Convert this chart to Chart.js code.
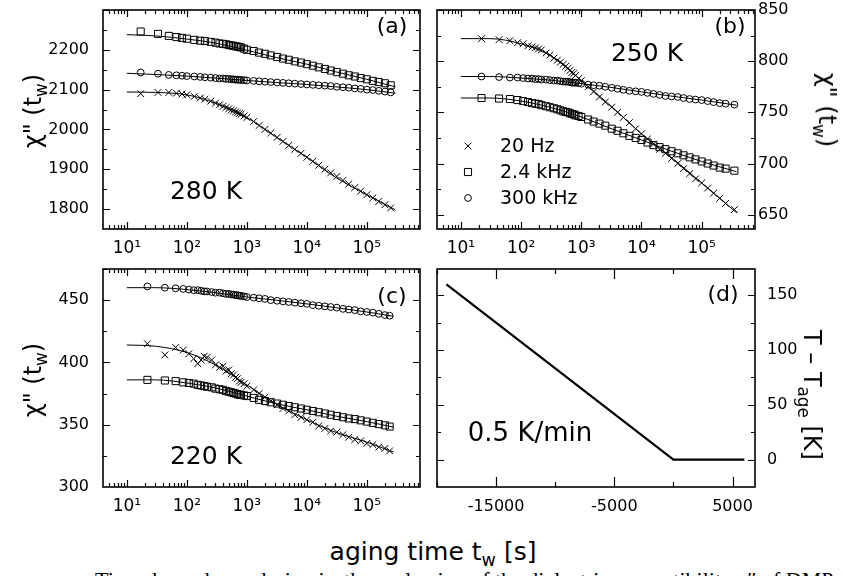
<!DOCTYPE html>
<html>
<head>
<meta charset="utf-8">
<script src="https://cdn.jsdelivr.net/npm/chart.js@4.4.0/dist/chart.umd.min.js"></script>
<style>
body { margin:0; width:843px; height:576px; overflow:hidden; position:relative; background:#fff;
       font-family:'DejaVu Sans', sans-serif; color:#000; }
canvas { position:absolute; }
.txt { position:absolute; white-space:nowrap; line-height:1; transform:translate(-50%,-50%); }
.vl { transform:translate(-50%,-50%) rotate(-90deg); }
.vr { transform:translate(-50%,-50%) rotate(90deg); }
sub { font-size:70%; vertical-align:-0.35em; line-height:0; }
.cap { position:absolute; left:95px; top:569px; white-space:nowrap; line-height:1;
       font-family:'Liberation Serif', serif; font-size:22px; }
</style>
</head>
<body>
<canvas id="ca" width="430" height="262" style="left:0;top:0"></canvas>
<canvas id="cb" width="413" height="262" style="left:430px;top:0"></canvas>
<canvas id="cc" width="430" height="262" style="left:0;top:262px"></canvas>
<canvas id="cd" width="413" height="262" style="left:430px;top:262px"></canvas>

<div class="txt vl" style="left:33px;top:111px;font-size:24px">χ" (t<sub>w</sub>)</div>
<div class="txt vl" style="left:33px;top:380px;font-size:24px">χ" (t<sub>w</sub>)</div>
<div class="txt vr" style="left:827px;top:110px;font-size:24px">χ" (t<sub>w</sub>)</div>
<div class="txt vr" style="left:812px;top:395px;font-size:24px">T – T<sub>age</sub> [K]</div>

<div class="txt" style="left:392px;top:26px;font-size:22px">(a)</div>
<div class="txt" style="left:730px;top:26px;font-size:22px">(b)</div>
<div class="txt" style="left:392px;top:296px;font-size:22px">(c)</div>
<div class="txt" style="left:723px;top:294px;font-size:22px">(d)</div>
<div class="txt" style="left:206px;top:190px;font-size:25px">280 K</div>
<div class="txt" style="left:647px;top:52px;font-size:25px">250 K</div>
<div class="txt" style="left:206px;top:455px;font-size:25px">220 K</div>
<div class="txt" style="left:530px;top:432px;font-size:26px">0.5 K/min</div>
<div class="txt" style="left:433px;top:551px;font-size:25px">aging time t<sub>w</sub> [s]</div>
<div class="cap">Time dependence during isothermal aging of the dielectric susceptibility χ″ of DMP</div>

<script>
// aging times [s] of the measured points
const tA = [17, 33, 50, 67, 83, 100, 133, 167, 200, 250, 300, 350, 400, 450, 500, 550, 600, 650, 700, 750,
  800, 900, 1000, 1300, 1600, 2000, 2500, 3200, 4000, 5000, 6300, 8000, 10000, 12600, 15800, 20000,
  25000, 31600, 40000, 50000, 63000, 79000, 100000, 126000, 158000, 200000, 250000];
const tB = [22, 43, 65, 87, 108, 130, 152, 173, 195, 217, 260, 300, 350, 400, 450, 500, 550, 600, 650, 700,
  750, 800, 900, 1000, 1300, 1600, 2000, 2500, 3200, 4000, 5000, 6300, 8000, 10000, 12600, 15800, 20000,
  25000, 31600, 40000, 50000, 63000, 79000, 100000, 126000, 158000, 200000, 250000, 350000];
const tC = [22, 43, 65, 87, 108, 130, 152, 173, 195, 217, 260, 300, 350, 400, 450, 500, 550, 600, 650, 700,
  750, 800, 900, 1000, 1300, 1600, 2000, 2500, 3200, 4000, 5000, 6300, 8000, 10000, 12600, 15800, 20000,
  25000, 31600, 40000, 50000, 63000, 79000, 100000, 126000, 158000, 200000, 240000];

// (a) 280 K
const a24k = [2246, 2240, 2235, 2232, 2230, 2228, 2225, 2223, 2222, 2220, 2218, 2216, 2215, 2214, 2212, 2211,
  2210, 2209, 2208, 2207, 2206, 2203, 2200, 2197, 2193, 2190, 2186, 2182, 2178, 2175, 2171, 2168, 2164,
  2160, 2156, 2152, 2148, 2144, 2140, 2136, 2133, 2129, 2126, 2122, 2119, 2116, 2111];
const a300k = [2143, 2140, 2137, 2136, 2135, 2134, 2133, 2132, 2131, 2130, 2129, 2128, 2128, 2127, 2127, 2126,
  2126, 2125, 2125, 2125, 2124, 2124, 2123, 2122, 2121, 2120, 2119, 2118, 2117, 2116, 2115, 2114, 2113,
  2112, 2111, 2110, 2109, 2107, 2106, 2105, 2103, 2102, 2100, 2099, 2097, 2095, 2093];
const a20 = [2090, 2093, 2093, 2091, 2089, 2087, 2083, 2079, 2076, 2071, 2066, 2062, 2058, 2055, 2052, 2049,
  2047, 2044, 2042, 2040, 2038, 2034, 2030, 2020, 2010, 2000, 1991, 1980, 1970, 1960, 1950, 1940, 1930,
  1920, 1910, 1900, 1891, 1882, 1872, 1863, 1854, 1845, 1836, 1828, 1819, 1811, 1803];

// (b) 250 K
const b20 = [822, 821, 820, 818, 817, 815, 814, 813, 812, 811, 808, 806, 803, 801, 799, 797, 795, 793, 791, 789,
  788, 786, 783, 781, 775, 770, 765, 760, 755, 750, 745, 740, 734, 729, 724, 719, 714, 710, 705, 700, 695,
  690, 685, 681, 676, 671, 666, 661, 655];
const b300k = [785, 784.5, 784, 784, 783.5, 783, 783, 782.5, 782.5, 782, 782, 781.5, 781, 781, 780.5, 780, 780,
  780, 779.5, 779, 779, 779, 778.5, 778, 777, 776.5, 776, 775, 774, 773, 772, 771, 770.5, 770, 769, 768,
  767, 766, 765.5, 765, 764, 763, 762.5, 762, 761, 760, 759, 758.5, 757.5];
const b24k = [764, 763.5, 763, 762, 761, 760, 759, 758.5, 758, 757, 756, 755, 754, 753, 752, 751, 750.5, 750,
  749, 748.5, 748, 747, 746.5, 745.5, 743, 741, 739, 737, 734, 732, 729.5, 727, 725, 723, 720.5, 718, 716,
  714, 712, 710, 708, 706, 704, 702, 700, 698, 696, 695, 693];

// (c) 220 K
const c300k = [461, 460, 459.5, 459, 458.5, 458, 458, 457.5, 457, 457, 456.5, 456, 456, 455.5, 455, 455, 454.5,
  454.5, 454, 454, 453.5, 453.5, 453, 452.5, 452, 451.5, 451, 450, 449.5, 449, 448.5, 448, 447.5, 447, 446,
  445.5, 445, 444.5, 444, 443, 442.5, 442, 441, 440.5, 440, 439, 438, 437.5];
const c24k = [386, 385.5, 385, 384, 383.5, 383, 382, 381.5, 381, 380.5, 380, 379, 378.5, 378, 377, 376.5, 376,
  375.5, 375, 374.5, 374, 374, 373.5, 373, 371.5, 370, 369, 368, 367, 366, 365, 364, 363, 362, 361, 360,
  359, 358, 357, 356, 355, 354.5, 353.5, 352.5, 351.5, 350.5, 349.5, 348.5];
const c20 = [415, 406, 412, 410, 407, 403, 399, 402, 405, 404, 402, 398, 396, 397, 393, 394, 391, 390, 388, 387,
  385, 384, 383, 381, 378, 375, 372, 369, 366, 363, 361, 358, 356, 354, 352, 349, 347, 345, 344, 342, 340,
  338, 337, 335, 334, 332, 331, 329];

// fit curves
const tFitA = [10, 30, 100, 300, 1000, 3000, 10000, 30000, 100000, 300000];
const aFit24k = [2238, 2235, 2227, 2217, 2199, 2181, 2164, 2145, 2126, 2107];
const aFit300k = [2141, 2138, 2134, 2129, 2123, 2118, 2113, 2107, 2100, 2091];
const aFit20 = [2094, 2093, 2087, 2066, 2030, 1982, 1930, 1880, 1836, 1798];
const tFitB = [10, 30, 100, 300, 1000, 3000, 10000, 30000, 100000, 380000];
const bFit20 = [822, 822, 817, 806, 781, 757, 729, 707, 681, 652];
const bFit300k = [785, 785, 783.5, 781.5, 778, 774.5, 770, 766, 762, 757];
const bFit24k = [764, 764, 761, 755, 745.5, 734.5, 723, 712.5, 702, 692];
const tFitC = [10, 30, 100, 300, 1000, 3000, 10000, 30000, 100000, 280000];
const cFit300k = [460, 460, 458.5, 456, 452.5, 450, 447, 444, 440.5, 437];
const cFit24k = [386, 386, 383.5, 379.5, 373, 367, 362, 357, 352.5, 348];
const cFit20 = [414, 413, 408, 398, 382, 367, 354, 344, 336, 328];

// (d) temperature protocol
const protoTime = [-19200, 0, 6000];
const protoDT = [160, 0, 0];

// tick labels
const decades = [10, 100, 1000, 10000, 100000];
const SUP = {1: '¹', 2: '²', 3: '³', 4: '⁴', 5: '⁵'};
const yTicksA = [1800, 1900, 2000, 2100, 2200];
const yTicksB = [650, 700, 750, 800, 850];
const yTicksC = [300, 350, 400, 450];
const yTicksD = [0, 50, 100, 150];
const xTicksD = [-15000, -5000, 5000];

const legendItems = [['crossRot', '20 Hz'], ['rect', '2.4 kHz'], ['circle', '300 kHz']];
const R = {crossRot: 4.8, rect: 5, circle: 3.4};

Chart.defaults.font.family = "'DejaVu Sans', sans-serif";
Chart.defaults.color = '#000';

const pts = (xs, ys) => xs.map((x, i) => ({x, y: ys[i]}));
const markers = (xs, ys, style) => ({
  data: pts(xs, ys), showLine: false, pointStyle: style, pointRadius: R[style], pointHoverRadius: R[style],
  pointBorderColor: '#000', pointBackgroundColor: 'rgba(0,0,0,0)', pointBorderWidth: 1
});
const fit = (xs, ys, w, straight) => ({
  data: pts(xs, ys), showLine: true, borderColor: '#000', borderWidth: w || 1, pointRadius: 0,
  cubicInterpolationMode: straight ? 'default' : 'monotone', tension: 0, fill: false
});

function logMinors(min, max) {
  const out = [];
  for (let e = 0; e < 7; e++) for (let k = 2; k <= 9; k++) {
    const v = k * Math.pow(10, e);
    if (v > min && v < max) out.push(v);
  }
  return out;
}

// closed frame with inward ticks on all four sides
function frame(cfg) {
  return {
    id: 'frame',
    afterDatasetsDraw(chart) {
      const {ctx, chartArea: a, scales: {x, y}} = chart;
      ctx.save();
      ctx.strokeStyle = '#000';
      ctx.lineWidth = 1.2;
      ctx.beginPath();
      const xt = (vals, len) => vals.forEach(v => {
        const p = Math.round(x.getPixelForValue(v)) + 0.5;
        if (p < a.left || p > a.right) return;
        ctx.moveTo(p, a.bottom); ctx.lineTo(p, a.bottom - len);
        ctx.moveTo(p, a.top); ctx.lineTo(p, a.top + len);
      });
      const yt = (vals, len) => vals.forEach(v => {
        const p = Math.round(y.getPixelForValue(v)) + 0.5;
        if (p < a.top || p > a.bottom) return;
        ctx.moveTo(a.left, p); ctx.lineTo(a.left + len, p);
        ctx.moveTo(a.right, p); ctx.lineTo(a.right - len, p);
      });
      xt(cfg.xMajor, cfg.xLen || 7); xt(cfg.xMinor, cfg.xMin || 4);
      yt(cfg.yMajor, 7); yt(cfg.yMinor, 4);
      ctx.stroke();
      ctx.lineWidth = 1.6;
      ctx.strokeRect(a.left, a.top, a.right - a.left, a.bottom - a.top);
      ctx.restore();
    }
  };
}

function drawMark(ctx, style, x, y) {
  const r = R[style], d = r * Math.SQRT1_2;
  ctx.beginPath();
  if (style === 'crossRot') { ctx.moveTo(x - d, y - d); ctx.lineTo(x + d, y + d); ctx.moveTo(x + d, y - d); ctx.lineTo(x - d, y + d); }
  else if (style === 'rect') ctx.rect(x - d, y - d, 2 * d, 2 * d);
  else ctx.arc(x, y, r, 0, 2 * Math.PI);
  ctx.stroke();
}

const legendB = {
  id: 'legendB',
  afterDatasetsDraw(chart) {
    const ctx = chart.ctx;
    ctx.save();
    ctx.strokeStyle = '#000';
    ctx.fillStyle = '#000';
    ctx.lineWidth = 1;
    ctx.font = "19px 'DejaVu Sans'";
    ctx.textBaseline = 'middle';
    legendItems.forEach(([style, label], i) => {
      const y = 146 + i * 26;
      drawMark(ctx, style, 38, y);
      ctx.fillText(label, 70, y + 1);
    });
    ctx.restore();
  }
};

const noGrid = {grid: {display: false, drawTicks: false}, border: {display: false}};
const tickFont = {size: 16};

function logX(h) {
  return {
    type: 'logarithmic', min: 4, max: 7.7e5, ...noGrid,
    afterBuildTicks: s => { s.ticks = decades.map(v => ({value: v})); },
    afterFit: s => { s.height = h; s.paddingLeft = 0; s.paddingRight = 0; },
    ticks: {font: {size: 17}, padding: 9, maxRotation: 0, autoSkip: false,
      callback: v => '10' + SUP[Math.round(Math.log10(v))]}
  };
}
function linY(min, max, vals, pos, w, pad) {
  return {
    type: 'linear', position: pos, min, max, ...noGrid,
    afterBuildTicks: s => { s.ticks = vals.map(v => ({value: v})); },
    afterFit: s => { s.width = w; s.paddingTop = 0; s.paddingBottom = 0; },
    ticks: {font: tickFont, padding: pad, autoSkip: false, callback: v => String(v)}
  };
}
function step(a, b, s) { const o = []; for (let v = a; v <= b; v += s) o.push(v); return o; }

const base = (padding, x, y) => ({
  responsive: false, animation: false, events: [],
  layout: {padding},
  plugins: {legend: {display: false}, tooltip: {enabled: false}},
  scales: {x, y}
});

new Chart(document.getElementById('ca'), {
  type: 'scatter',
  data: {datasets: [
    markers(tA, a24k, 'rect'), markers(tA, a300k, 'circle'), markers(tA, a20, 'crossRot'),
    fit(tFitA, aFit24k), fit(tFitA, aFit300k), fit(tFitA, aFit20)
  ]},
  options: base({left: 0, top: 10, right: 10, bottom: 0}, logX(33), linY(1750, 2300, yTicksA, 'left', 103, 14)),
  plugins: [frame({xMajor: decades, xMinor: logMinors(4, 7.7e5), yMajor: step(1800, 2300, 100), yMinor: step(1750, 2250, 100)})]
});

new Chart(document.getElementById('cb'), {
  type: 'scatter',
  data: {datasets: [
    markers(tB, b20, 'crossRot'), markers(tB, b300k, 'circle'), markers(tB, b24k, 'rect'),
    fit(tFitB, bFit20), fit(tFitB, bFit300k), fit(tFitB, bFit24k)
  ]},
  options: base({left: 7, top: 10, right: 0, bottom: 0}, logX(33), linY(636, 850, yTicksB, 'right', 88, 3)),
  plugins: [frame({xMajor: decades, xMinor: logMinors(4, 7.7e5), yMajor: step(650, 850, 50), yMinor: step(675, 825, 50)}), legendB]
});

new Chart(document.getElementById('cc'), {
  type: 'scatter',
  data: {datasets: [
    markers(tC, c300k, 'circle'), markers(tC, c24k, 'rect'), markers(tC, c20, 'crossRot'),
    fit(tFitC, cFit300k), fit(tFitC, cFit24k), fit(tFitC, cFit20)
  ]},
  options: base({left: 0, top: 7, right: 10, bottom: 0}, logX(37), linY(300, 475, yTicksC, 'left', 103, 14)),
  plugins: [frame({xMajor: decades, xMinor: logMinors(4, 7.7e5), yMajor: step(300, 450, 50), yMinor: step(325, 475, 50)})]
});

new Chart(document.getElementById('cd'), {
  type: 'scatter',
  data: {datasets: [fit(protoTime, protoDT, 2.2, true)]},
  options: base({left: 7, top: 7, right: 0, bottom: 0}, {
    type: 'linear', min: -20000, max: 6900, ...noGrid,
    afterBuildTicks: s => { s.ticks = xTicksD.map(v => ({value: v})); },
    afterFit: s => { s.height = 37; s.paddingLeft = 0; s.paddingRight = 0; },
    ticks: {font: tickFont, padding: 10, maxRotation: 0, autoSkip: false, callback: v => String(v)}
  }, linY(-25, 174, yTicksD, 'right', 88, 12)),
  plugins: [frame({xMajor: xTicksD, xMinor: [-20000, -10000, 0], xLen: 10, xMin: 5,
    yMajor: yTicksD, yMinor: [-25, 25, 75, 125]})]
});
</script>
</body>
</html>
